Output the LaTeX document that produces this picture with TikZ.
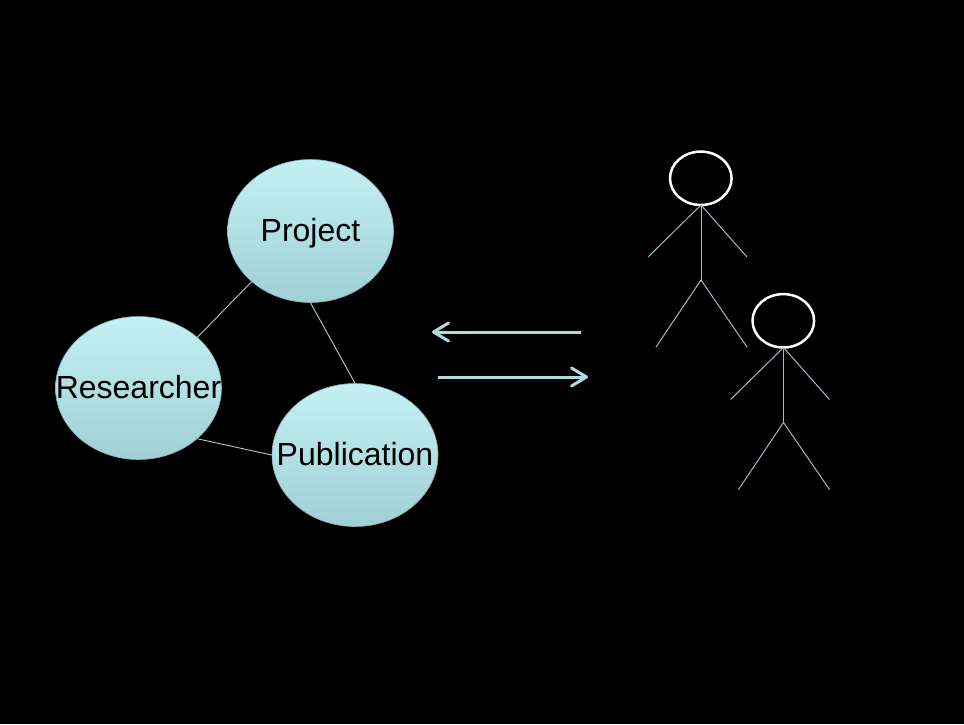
\documentclass[tikz,border=0pt]{standalone}
\usepackage{fontspec}
\setmainfont{Liberation Sans}
\usetikzlibrary{shapes.geometric,arrows.meta}
\definecolor{bubbletop}{RGB}{196,240,243}
\definecolor{bubblebot}{RGB}{160,208,212}
\definecolor{bubbleedge}{RGB}{130,170,175}
\definecolor{linkgray}{RGB}{175,205,205}
\definecolor{arrowcyan}{RGB}{172,220,225}
\definecolor{limbgray}{RGB}{150,190,195}
\newcommand{\bubtext}[1]{\raisebox{-10pt}[0pt][0pt]{\makebox[0pt]{#1}}}

\begin{document}
\begin{tikzpicture}
  [x=1pt,y=-1pt,
   every node/.style={ellipse,minimum width=166pt,minimum height=143pt,inner sep=0pt,
     top color=bubbletop,bottom color=bubblebot,draw=bubbleedge,line width=.6pt,
     font=\fontsize{32}{36}\selectfont},
   link/.style={draw=linkgray,line width=.9pt},
   flow/.style={draw=arrowcyan,line width=3pt,-{Straight Barb[length=15pt,width=18pt,round]}},
   limb/.style={draw=limbgray,line width=1pt}]
  \fill[black] (0,0) rectangle (964,724);
  \useasboundingbox (0,0) rectangle (964,724);

  \node (proj) at (310.5,231) {\bubtext{Project}};
  \node (res)  at (138.5,388) {\bubtext{Researcher}};
  \node (pub)  at (355,455)   {\bubtext{Publication}};

  \draw[link] (proj.south west) -- (res.north east);
  \draw[link] (proj.south) -- (pub.north);
  \draw[link] (res.south east) -- (pub.west);

  \coordinate (a1) at (581,332);
  \coordinate (a2) at (432,332);
  \coordinate (b1) at (438,377);
  \coordinate (b2) at (588,377);
  \draw[flow] (a1) -- (a2);
  \draw[flow] (b1) -- (b2);

  % stick figures
  \foreach \dx/\dy in {0/0,82.5/142.5}
  {
    \begin{scope}[shift={(\dx,\dy)}]
      \draw[white,line width=2.5pt] (700.8,178.3) ellipse [x radius=30.8,y radius=26.7];
      \draw[limb] (701,205) -- (701,280);
      \draw[limb] (648,257) -- (701,205) -- (747,257);
      \draw[limb] (656,347) -- (701,280) -- (747,347);
    \end{scope}
  }

\end{tikzpicture}
\end{document}
